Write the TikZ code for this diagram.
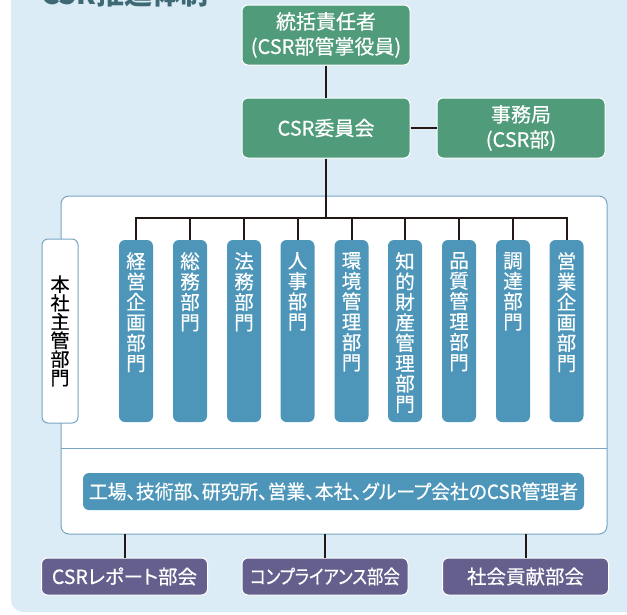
\documentclass[tikz,border=0pt]{standalone}
\usepackage{fontspec}
\usepackage{graphicx}
\setmainfont{Noto Sans CJK JP}
\newfontfamily\jpfont{Noto Sans CJK JP}[FakeBold=0.5]
\newfontfamily\paltfont{Noto Sans CJK JP}[CharacterWidth=AlternateProportional, FakeBold=0.5]
\definecolor{bgblue}{RGB}{220,236,246}
\definecolor{boxgreen}{RGB}{79,155,122}
\definecolor{deptblue}{RGB}{77,150,185}
\definecolor{kaipurple}{RGB}{100,95,140}
\definecolor{frameblue}{RGB}{120,165,195}
\definecolor{titleteal}{RGB}{60,105,115}
\definecolor{linedark}{RGB}{35,24,21}
\tikzset{
  x=1pt, y=-1pt,
  greenbox/.style={draw=white, line width=1pt, fill=boxgreen, rounded corners=6pt,
    minimum width=168pt, minimum height=60pt, inner sep=0pt, text=white,
    align=center, font=\paltfont\fontsize{20}{25}\selectfont},
  deptbox/.style={fill=deptblue, rounded corners=6pt, minimum width=34pt,
    minimum height=182pt, inner sep=0pt},
  depttext/.style={text=white, align=center, anchor=north, inner sep=0pt,
    font=\jpfont\fontsize{19.5}{20.4}\selectfont},
  kaibox/.style={draw=white, line width=1pt, fill=kaipurple, rounded corners=6pt,
    minimum width=166pt, minimum height=37pt, inner sep=0pt, text=white,
    font=\paltfont\fontsize{19.5}{22}\selectfont},
  conn/.style={draw=linedark, line width=2pt},
}
\begin{document}
\begin{tikzpicture}
\useasboundingbox (0,0) rectangle (627,614);
% background
\fill[bgblue, rounded corners=12pt] (11,-30) rectangle (660,612);
% title (cut off at top)
\node[anchor=base west, inner sep=0pt, text=titleteal,
  font=\bfseries\fontsize{28}{30}\selectfont] (title) at (41,4) {CSR推進体制};
% container
\draw[frameblue, line width=1pt, fill=white, rounded corners=8pt] (61,196) rectangle (607,534);
\draw[frameblue, line width=1pt] (61,448) -- (607,448);
% top boxes
\node[greenbox] (chief) at (326,35) {統括責任者\\(CSR部管掌役員)};
\node[greenbox] (comm) at (326,128) {CSR委員会};
\node[greenbox] (office) at (521,128) {事務局\\(CSR部)};
\draw[conn] (chief.south) -- (comm.north);
\draw[conn] (comm.east) -- (office.west);
\coordinate (busc) at (326,218);
\draw[conn] (comm.south) -- (busc);
% left label
\node[draw=frameblue, line width=1pt, fill=white, rounded corners=6pt,
  minimum width=36pt, minimum height=184pt, inner sep=0pt, align=center,
  font=\jpfont\fontsize{19}{18.7}\selectfont] (honsha) at (60,331) {本\\社\\主\\管\\部\\門};
% departments
\foreach \i/\x/\t in {1/136/{経\\営\\企\\画\\部\\門},
                      2/190/{総\\務\\部\\門},
                      3/244/{法\\務\\部\\門},
                      4/297.5/{人\\事\\部\\門},
                      5/351.5/{環\\境\\管\\理\\部\\門},
                      6/405/{知\\的\\財\\産\\管\\理\\部\\門},
                      7/459/{品\\質\\管\\理\\部\\門},
                      8/513/{調\\達\\部\\門},
                      9/566.5/{営\\業\\企\\画\\部\\門}} {
  \node[deptbox] (d\i) at (\x,331) {};
  \node[depttext] (t\i) at (\x,252) {\t};
}
\draw[conn] (d1.north) -- ++(0,-22) -| (d9.north);
\foreach \i in {2,...,8} {
  \draw[conn] (d\i.north) -- ++(0,-22);
}
% managers box
\node[fill=deptblue, rounded corners=6pt, minimum width=501pt, minimum height=37pt,
  inner sep=0pt, text=white, font=\paltfont\fontsize{19.5}{22}\selectfont] (mgr) at (333.5,491.5)
  {\scalebox{0.965}[1]{工場、技術部、研究所、営業、本社、グループ会社のCSR管理者}};
% bottom committees
\node[kaibox] (k1) at (124.5,576.5) {CSRレポート部会};
\node[kaibox] (k2) at (325,576.5) {\scalebox{0.84}[1]{コンプライアンス部会}};
\node[kaibox] (k3) at (525.5,576.5) {社会貢献部会};
\coordinate (c1) at (124.5,534);
\coordinate (c2) at (325,534);
\coordinate (c3) at (525.5,534);
\draw[conn] (c1) -- (k1.north);
\draw[conn] (c2) -- (k2.north);
\draw[conn] (c3) -- (k3.north);
\end{tikzpicture}
\end{document}
